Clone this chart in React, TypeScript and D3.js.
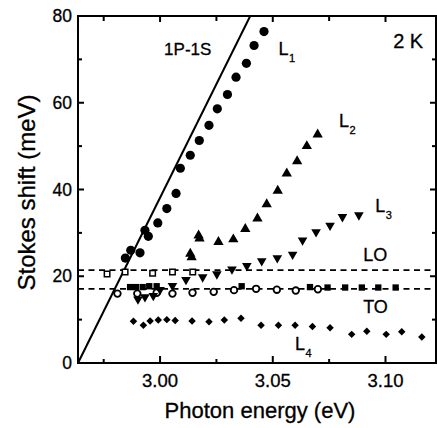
import * as d3 from "d3";

const WIDTH = 437;
const HEIGHT = 428;
const MARGIN = { top: 16, right: 1, bottom: 65, left: 78 };
const FONT = "'Liberation Sans', Arial, Helvetica, sans-serif";

// photon energy (eV), Stokes shift (meV)
const L1 = [
  [2.9846, 24.2], [2.987, 26.0], [2.9911, 25.4], [2.9933, 30.6], [2.9948, 29.2],
  [2.999, 32.3], [3.003, 35.6], [3.0071, 39.1], [3.009, 44.9], [3.0134, 47.9],
  [3.0174, 51.3], [3.0217, 54.8], [3.0254, 58.6], [3.0299, 61.9], [3.0337, 65.9],
  [3.0383, 69.1], [3.0417, 73.2], [3.0461, 76.4],
];
const L2 = [
  [3.0134, 25.2], [3.014, 24.4], [3.0171, 29.4], [3.0175, 28.7], [3.0259, 27.9],
  [3.0325, 28.5], [3.0378, 30.9], [3.0432, 33.3], [3.0473, 36.6], [3.0522, 39.7],
  [3.0562, 43.7], [3.0608, 46.5], [3.0651, 50.0], [3.0699, 52.7],
];
const L3 = [
  [2.9902, 14.7], [2.9933, 15.2], [2.997, 15.5], [3.0, 16.9], [3.0055, 17.8],
  [3.0115, 19.2], [3.0189, 19.8], [3.0252, 20.5], [3.0319, 21.6], [3.0385, 22.4],
  [3.0451, 23.5], [3.052, 24.2], [3.0588, 25.0], [3.0632, 28.3], [3.0692, 30.2],
  [3.0754, 31.7], [3.0809, 33.7], [3.0882, 34.1],
];
const L4 = [
  [2.9882, 9.6], [2.9926, 8.7], [2.9956, 9.7], [2.9992, 9.9], [3.003, 10.0],
  [3.0067, 9.8], [3.0142, 9.7], [3.0217, 9.5], [3.0285, 9.9], [3.0359, 10.3],
  [3.0448, 8.7], [3.0525, 8.7], [3.0599, 8.7], [3.0676, 8.4], [3.0754, 8.1],
  [3.085, 6.6], [3.0917, 7.3], [3.1003, 6.6], [3.1072, 7.2], [3.1161, 6.0],
];
const LO_OPEN = [
  [2.9765, 20.5], [2.9845, 21.0], [2.9967, 20.7], [3.0055, 21.0], [3.0145, 21.0],
];
const TO_OPEN = [
  [2.9811, 16.0], [2.9899, 16.0], [2.9985, 16.2], [3.0055, 16.0], [3.0144, 16.2],
  [3.0238, 16.4], [3.0328, 16.8], [3.0426, 17.1], [3.0518, 16.9], [3.0602, 16.7],
  [3.07, 17.0],
];
const TO_FILLED = [
  [2.9867, 17.5], [2.9893, 17.5], [2.9923, 17.5], [2.9952, 17.7], [2.9985, 17.7],
  [3.0362, 17.7], [3.0665, 17.5], [3.0743, 17.4], [3.0821, 17.4], [3.0895, 17.4],
  [3.0968, 17.4], [3.1045, 17.4],
];
const LINE_1P1S = [[2.9636, 0], [3.04, 80]];
const LO_ENERGY = 21.4;
const TO_ENERGY = 17.1;

const X_DOMAIN = [2.9636, 3.1224];
const Y_DOMAIN = [0, 80];
const X_TICKS = [3.0, 3.05, 3.1];
const X_MINOR = [2.975, 3.025, 3.075];
const Y_TICKS = [0, 20, 40, 60, 80];
const Y_MINOR = [10, 30, 50, 70];

const LABELS = [
  { text: "1P-1S", x: 3.0018, y: 71.0, size: 17 },
  { text: "L", sub: "1", x: 3.0525, y: 71.0, size: 18 },
  { text: "2 K", x: 3.1034, y: 72.6, size: 20 },
  { text: "L", sub: "2", x: 3.0794, y: 54.5, size: 18 },
  { text: "L", sub: "3", x: 3.0954, y: 34.8, size: 18 },
  { text: "LO", x: 3.0901, y: 23.6, size: 18 },
  { text: "TO", x: 3.0901, y: 11.5, size: 18 },
  { text: "L", sub: "4", x: 3.0599, y: 3.1, size: 18 },
];

export default function App() {
  const x0 = MARGIN.left;
  const x1 = WIDTH - MARGIN.right;
  const y0 = HEIGHT - MARGIN.bottom;
  const y1 = MARGIN.top;

  const xScale = d3.scaleLinear().domain(X_DOMAIN).range([x0, x1]);
  const yScale = d3.scaleLinear().domain(Y_DOMAIN).range([y0, y1]);

  const line = d3
    .line<number[]>()
    .x((d) => xScale(d[0]))
    .y((d) => yScale(d[1]));

  const triangle = d3.symbol(d3.symbolTriangle, 46)() as string;
  const triangleDown = d3.symbol(d3.symbolTriangle, 40)() as string;
  const square = d3.symbol(d3.symbolSquare, 40)() as string;
  const openSquare = d3.symbol(d3.symbolSquare, 30)() as string;
  const diamond = d3.symbol(d3.symbolSquare, 28)() as string;

  const pos = (d: number[]) => `translate(${xScale(d[0])},${yScale(d[1])})`;

  // text looks a touch heavier in the original
  const textStyle = { stroke: "#000", strokeWidth: 0.3 };

  return (
    <svg
      width={WIDTH}
      height={HEIGHT}
      style={{ position: "absolute", left: 0, top: 0, background: "#fff" }}
      fontFamily={FONT}
    >
      {/* phonon energies */}
      {[LO_ENERGY, TO_ENERGY].map((v) => (
        <line
          key={v}
          x1={x0}
          x2={x1}
          y1={yScale(v)}
          y2={yScale(v)}
          stroke="#000"
          strokeWidth={1.8}
          strokeDasharray="6,4.5"
        />
      ))}

      <path d={line(LINE_1P1S) ?? ""} stroke="#000" strokeWidth={2} fill="none" />

      {LO_OPEN.map((d, i) => (
        <path key={i} d={openSquare} transform={pos(d)} fill="#fff" stroke="#000" strokeWidth={1.5} />
      ))}
      {TO_FILLED.map((d, i) => (
        <path key={i} d={square} transform={pos(d)} fill="#000" />
      ))}
      {TO_OPEN.map((d, i) => (
        <circle key={i} cx={xScale(d[0])} cy={yScale(d[1])} r={3.3} fill="#fff" stroke="#000" strokeWidth={1.8} />
      ))}
      {L1.map((d, i) => (
        <circle key={i} cx={xScale(d[0])} cy={yScale(d[1])} r={4.6} fill="#000" />
      ))}
      {L2.map((d, i) => (
        <path key={i} d={triangle} transform={pos(d)} fill="#000" />
      ))}
      {L3.map((d, i) => (
        <path key={i} d={triangleDown} transform={`${pos(d)} rotate(180)`} fill="#000" />
      ))}
      {L4.map((d, i) => (
        <path key={i} d={diamond} transform={`${pos(d)} rotate(45)`} fill="#000" />
      ))}

      {/* frame */}
      <rect x={x0} y={y1} width={x1 - x0} height={y0 - y1} fill="none" stroke="#000" strokeWidth={2} />

      {/* x ticks, bottom and top, pointing in */}
      {X_TICKS.map((t) => (
        <g key={t}>
          <line x1={xScale(t)} x2={xScale(t)} y1={y0} y2={y0 - 7} stroke="#000" strokeWidth={2} />
          <line x1={xScale(t)} x2={xScale(t)} y1={y1} y2={y1 + 6} stroke="#000" strokeWidth={2} />
          <text x={xScale(t)} y={y0 + 24} textAnchor="middle" fontSize={18.5} {...textStyle}>
            {t.toFixed(2)}
          </text>
        </g>
      ))}
      {X_MINOR.map((t) => (
        <g key={t}>
          <line x1={xScale(t)} x2={xScale(t)} y1={y0} y2={y0 - 4} stroke="#000" strokeWidth={2} />
          <line x1={xScale(t)} x2={xScale(t)} y1={y1} y2={y1 + 5} stroke="#000" strokeWidth={2} />
        </g>
      ))}

      {/* y ticks, left and right */}
      {Y_TICKS.map((t) => (
        <g key={t}>
          <line x1={x0} x2={x0 + 6} y1={yScale(t)} y2={yScale(t)} stroke="#000" strokeWidth={2} />
          <line x1={x1} x2={x1 - 6} y1={yScale(t)} y2={yScale(t)} stroke="#000" strokeWidth={2} />
          <text x={x0 - 6} y={yScale(t) + 6} textAnchor="end" fontSize={17.5} {...textStyle}>
            {t}
          </text>
        </g>
      ))}
      {Y_MINOR.map((t) => (
        <g key={t}>
          <line x1={x0} x2={x0 + 4} y1={yScale(t)} y2={yScale(t)} stroke="#000" strokeWidth={2} />
          <line x1={x1} x2={x1 - 4} y1={yScale(t)} y2={yScale(t)} stroke="#000" strokeWidth={2} />
        </g>
      ))}

      <text x={260} y={418} textAnchor="middle" fontSize={22} {...textStyle}>
        Photon energy (eV)
      </text>
      <text
        transform={`translate(34.5,${(y0 + y1) / 2 + 3}) rotate(-90)`}
        textAnchor="middle"
        fontSize={24}
        {...textStyle}
      >
        Stokes shift (meV)
      </text>

      {LABELS.map((l, i) => (
        <text key={i} x={xScale(l.x)} y={yScale(l.y)} fontSize={l.size} {...textStyle}>
          {l.text}
          {l.sub && (
            <tspan fontSize={11} dx={0.5} dy={7}>
              {l.sub}
            </tspan>
          )}
        </text>
      ))}
    </svg>
  );
}
